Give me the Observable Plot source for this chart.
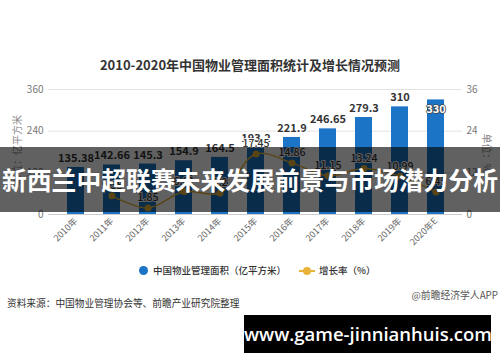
<!DOCTYPE html>
<html><head><meta charset="utf-8">
<script src="https://cdn.jsdelivr.net/npm/d3@7"></script>
<script src="https://cdn.jsdelivr.net/npm/@observablehq/plot@0.6"></script>
<style>
body{margin:0;background:#fff;}
#wrap{position:relative;width:500px;height:362px;overflow:hidden;font-family:"Noto Sans CJK SC","Noto Sans",sans-serif;background:#fff;}
#wrap svg{position:absolute;left:0;top:0;}
.abs{position:absolute;white-space:nowrap;}
</style></head><body><div id="wrap"></div>
<script>
const years = ["2010年","2011年","2012年","2013年","2014年","2015年","2016年","2017年","2018年","2019年","2020年E"];
const area = [135.38,142.66,145.3,154.9,164.5,193.2,221.9,246.65,279.3,310,330];
const growthYears = ["2011年","2012年","2013年","2014年","2015年","2016年","2017年","2018年","2019年","2020年E"];
const growth = [5.38,1.85,6.61,6.2,17.45,14.86,11.15,13.24,10.99,6.45];
const leftTicks = [0,120,240,360];
const rightTicks = [0,12,24,36];
const titleText = "2010-2020年中国物业管理面积统计及增长情况预测";
const seriesNames = ["中国物业管理面积（亿平方米）","增长率（%）"];
const sourceText = "资料来源：中国物业管理协会等、前瞻产业研究院整理";
const brandText = "@前瞻经济学人APP";
const bannerText = "新西兰中超联赛未来发展前景与市场潜力分析";
const urlText = "www.game-jinnianhuis.com";

const BLUE = "#1c74c6", GOLD = "#e8b339";
const ratio = 360 / 36;
const barData = years.map((y,i)=>({year:y, value:area[i], last: i===years.length-1}));
const lineData = growthYears.map((y,i)=>({year:y, rate:growth[i]}));
const FONT = '"Noto Sans CJK SC","Noto Sans",sans-serif';

const chart = Plot.plot({
  width:500, height:362,
  marginTop:89, marginBottom:148, marginLeft:48, marginRight:38,
  style:{fontFamily:FONT, background:"transparent"},
  x:{domain:years, paddingInner:0.53, paddingOuter:0.42, label:null},
  y:{domain:[0,360], label:null},
  marks:[
    Plot.ruleY([120,240,360],{stroke:"#e3e3e3"}),
    Plot.ruleY([0],{stroke:"#cccccc"}),
    Plot.barY(barData,{x:"year", y:"value", fill:BLUE}),
    Plot.lineY(lineData,{x:"year", y:d=>d.rate*ratio, stroke:GOLD, strokeWidth:1.5, curve:"catmull-rom"}),
    Plot.dot(lineData,{x:"year", y:d=>d.rate*ratio, r:3.5, fill:GOLD}),
    Plot.text(barData.filter(d=>!d.last),{x:"year", y:"value", text:d=>String(d.value), dy:-9, fontSize:11, fontWeight:600, fill:"#333", stroke:"white", strokeWidth:2}),
    Plot.text(barData.filter(d=>d.last),{x:"year", y:"value", text:d=>String(d.value), dy:10, fontSize:11, fontWeight:600, fill:"white", stroke:"#444", strokeWidth:1.5}),
    Plot.text(lineData,{x:"year", y:d=>d.rate*ratio, text:d=>String(d.rate), dy:-10, fontSize:10.5, fontWeight:500, fill:"#333", stroke:"white", strokeWidth:2}),
    Plot.axisY({ticks:leftTicks, tickSize:0, tickPadding:5, fontSize:10, color:"#777", label:null}),
    Plot.axisY({anchor:"right", ticks:rightTicks.map(d=>d*ratio), tickFormat:d=>String(d/ratio), tickSize:0, tickPadding:4, fontSize:10, color:"#777", label:null}),
    Plot.axisX({tickRotate:-45, tickSize:0, tickPadding:5, fontSize:9, color:"#666", label:null})
  ]
});
const wrap = document.getElementById("wrap");
wrap.appendChild(chart);

function add(html, css){
  const d = document.createElement("div");
  d.className = "abs";
  d.innerHTML = html;
  Object.assign(d.style, css);
  wrap.appendChild(d);
  return d;
}
add(titleText,{left:"0",width:"500px",top:"56px",textAlign:"center",fontSize:"13px",fontWeight:"700",color:"#333",lineHeight:"18px"});
add("单位：亿平方米",{left:"16px",top:"150px",fontSize:"10px",color:"#888",transform:"translate(-50%,-50%) rotate(-90deg)"});
add("单位：%",{left:"487px",top:"153px",fontSize:"10px",color:"#888",transform:"translate(-50%,-50%) rotate(90deg)"});
// legend
add(`<span style="display:inline-block;width:9px;height:9px;border-radius:50%;background:${BLUE};vertical-align:-1px;margin-right:5px"></span>${seriesNames[0]}`,
  {left:"139px",top:"263px",fontSize:"9.5px",color:"#333",lineHeight:"14px",fontWeight:"500"});
add(`<span style="position:relative;display:inline-block;width:16px;height:9px;vertical-align:-1px;margin-right:4px"><span style="position:absolute;left:0;top:4px;width:16px;height:2px;background:${GOLD}"></span><span style="position:absolute;left:4px;top:1px;width:8px;height:8px;border-radius:50%;background:${GOLD}"></span></span>${seriesNames[1]}`,
  {left:"299px",top:"263px",fontSize:"9.5px",color:"#333",lineHeight:"14px",fontWeight:"500"});
add(sourceText,{left:"7px",top:"296px",fontSize:"9.7px",color:"#333",lineHeight:"14px"});
add(brandText,{right:"2px",top:"288px",fontSize:"9.8px",color:"#555",lineHeight:"14px"});
// banner overlay
add(bannerText,{left:"0",top:"147px",width:"500px",height:"65px",lineHeight:"65px",textAlign:"center",background:"rgba(0,0,0,0.62)",color:"#fff",fontSize:"24.8px",fontWeight:"700"});
add(urlText,{left:"244px",top:"315px",width:"247px",height:"38px",lineHeight:"38px",textAlign:"center",background:"#000",color:"#fff",fontSize:"18.5px",fontWeight:"600",fontFamily:'"Open Sans","Noto Sans",sans-serif'});
</script></body></html>
